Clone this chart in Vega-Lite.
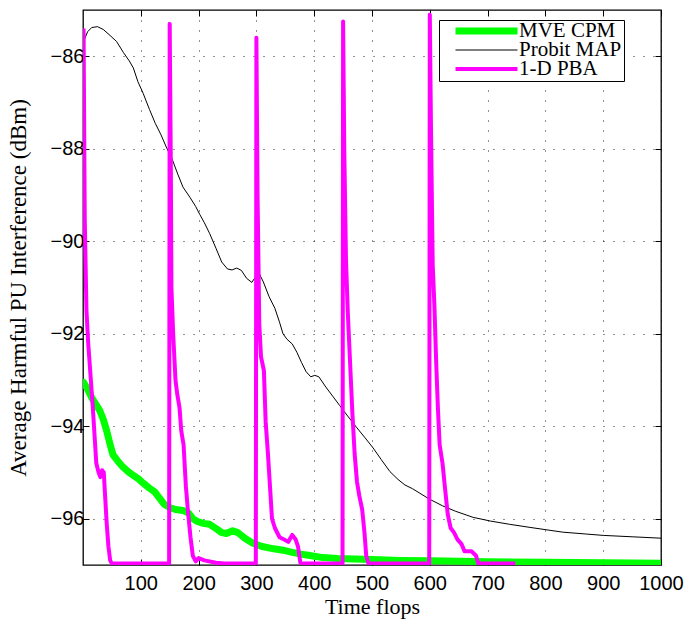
{
  "$schema": "https://vega.github.io/schema/vega-lite/v6.json",
  "width": 578,
  "height": 555,
  "autosize": "none",
  "padding": {"left": 83, "top": 10, "right": 24, "bottom": 56},
  "background": "white",
  "config": {
    "view": {"stroke": "#000", "strokeWidth": 1.3},
    "axis": {
      "labelFont": "Liberation Sans",
      "labelFontSize": 20,
      "labelColor": "#000",
      "titleFont": "Liberation Serif",
      "titleFontSize": 22,
      "titleFontWeight": "normal",
      "titleColor": "#000",
      "domain": false,
      "tickColor": "#000",
      "tickWidth": 1,
      "tickSize": -6,
      "gridColor": "#000",
      "gridDash": [1, 9],
      "gridOpacity": 0.85,
      "gridWidth": 1
    }
  },
  "data": {
    "values": [
      {"series":"MVE CPM","x":1,"y":-93.05},{"series":"MVE CPM","x":8,"y":-93.2},{"series":"MVE CPM","x":15,"y":-93.38},{"series":"MVE CPM","x":22,"y":-93.52},{"series":"MVE CPM","x":29,"y":-93.66},{"series":"MVE CPM","x":35,"y":-93.85},{"series":"MVE CPM","x":41,"y":-94.1},{"series":"MVE CPM","x":47,"y":-94.4},{"series":"MVE CPM","x":52,"y":-94.62},{"series":"MVE CPM","x":60,"y":-94.75},{"series":"MVE CPM","x":69,"y":-94.88},{"series":"MVE CPM","x":78,"y":-94.98},{"series":"MVE CPM","x":87,"y":-95.06},{"series":"MVE CPM","x":96,"y":-95.14},{"series":"MVE CPM","x":105,"y":-95.24},{"series":"MVE CPM","x":114,"y":-95.33},{"series":"MVE CPM","x":124,"y":-95.42},{"series":"MVE CPM","x":132,"y":-95.55},{"series":"MVE CPM","x":140,"y":-95.68},{"series":"MVE CPM","x":150,"y":-95.76},{"series":"MVE CPM","x":160,"y":-95.8},{"series":"MVE CPM","x":173,"y":-95.82},{"series":"MVE CPM","x":182,"y":-95.87},{"series":"MVE CPM","x":190,"y":-96.0},{"series":"MVE CPM","x":198,"y":-96.06},{"series":"MVE CPM","x":208,"y":-96.1},{"series":"MVE CPM","x":219,"y":-96.12},{"series":"MVE CPM","x":231,"y":-96.22},{"series":"MVE CPM","x":240,"y":-96.3},{"series":"MVE CPM","x":248,"y":-96.32},{"series":"MVE CPM","x":259,"y":-96.26},{"series":"MVE CPM","x":268,"y":-96.3},{"series":"MVE CPM","x":280,"y":-96.42},{"series":"MVE CPM","x":294,"y":-96.53},{"series":"MVE CPM","x":310,"y":-96.6},{"series":"MVE CPM","x":330,"y":-96.65},{"series":"MVE CPM","x":346,"y":-96.68},{"series":"MVE CPM","x":360,"y":-96.72},{"series":"MVE CPM","x":375,"y":-96.76},{"series":"MVE CPM","x":395,"y":-96.8},{"series":"MVE CPM","x":415,"y":-96.84},{"series":"MVE CPM","x":440,"y":-96.86},{"series":"MVE CPM","x":470,"y":-96.87},{"series":"MVE CPM","x":500,"y":-96.88},{"series":"MVE CPM","x":550,"y":-96.9},{"series":"MVE CPM","x":600,"y":-96.91},{"series":"MVE CPM","x":700,"y":-96.93},{"series":"MVE CPM","x":800,"y":-96.94},{"series":"MVE CPM","x":900,"y":-96.95},{"series":"MVE CPM","x":1000,"y":-96.96},
      {"series":"Probit MAP","x":1,"y":-85.85},{"series":"Probit MAP","x":3,"y":-85.62},{"series":"Probit MAP","x":8,"y":-85.47},{"series":"Probit MAP","x":15,"y":-85.38},{"series":"Probit MAP","x":25,"y":-85.36},{"series":"Probit MAP","x":35,"y":-85.42},{"series":"Probit MAP","x":45,"y":-85.53},{"series":"Probit MAP","x":58,"y":-85.68},{"series":"Probit MAP","x":70,"y":-85.92},{"series":"Probit MAP","x":80,"y":-86.1},{"series":"Probit MAP","x":87,"y":-86.25},{"series":"Probit MAP","x":95,"y":-86.55},{"series":"Probit MAP","x":104,"y":-86.8},{"series":"Probit MAP","x":115,"y":-87.15},{"series":"Probit MAP","x":125,"y":-87.45},{"series":"Probit MAP","x":135,"y":-87.7},{"series":"Probit MAP","x":144,"y":-87.96},{"series":"Probit MAP","x":155,"y":-88.25},{"series":"Probit MAP","x":164,"y":-88.55},{"series":"Probit MAP","x":173,"y":-88.83},{"series":"Probit MAP","x":185,"y":-89.05},{"series":"Probit MAP","x":195,"y":-89.25},{"series":"Probit MAP","x":202,"y":-89.42},{"series":"Probit MAP","x":210,"y":-89.6},{"series":"Probit MAP","x":219,"y":-89.83},{"series":"Probit MAP","x":230,"y":-90.15},{"series":"Probit MAP","x":240,"y":-90.45},{"series":"Probit MAP","x":250,"y":-90.6},{"series":"Probit MAP","x":258,"y":-90.62},{"series":"Probit MAP","x":266,"y":-90.58},{"series":"Probit MAP","x":274,"y":-90.63},{"series":"Probit MAP","x":283,"y":-90.8},{"series":"Probit MAP","x":292,"y":-90.89},{"series":"Probit MAP","x":298,"y":-90.78},{"series":"Probit MAP","x":305,"y":-90.7},{"series":"Probit MAP","x":312,"y":-90.88},{"series":"Probit MAP","x":322,"y":-91.2},{"series":"Probit MAP","x":332,"y":-91.45},{"series":"Probit MAP","x":340,"y":-91.75},{"series":"Probit MAP","x":346,"y":-92.0},{"series":"Probit MAP","x":353,"y":-92.12},{"series":"Probit MAP","x":362,"y":-92.22},{"series":"Probit MAP","x":370,"y":-92.4},{"series":"Probit MAP","x":378,"y":-92.62},{"series":"Probit MAP","x":386,"y":-92.82},{"series":"Probit MAP","x":394,"y":-92.93},{"series":"Probit MAP","x":401,"y":-92.9},{"series":"Probit MAP","x":408,"y":-92.93},{"series":"Probit MAP","x":420,"y":-93.15},{"series":"Probit MAP","x":432,"y":-93.35},{"series":"Probit MAP","x":444,"y":-93.55},{"series":"Probit MAP","x":458,"y":-93.78},{"series":"Probit MAP","x":473,"y":-94.02},{"series":"Probit MAP","x":488,"y":-94.25},{"series":"Probit MAP","x":502,"y":-94.47},{"series":"Probit MAP","x":516,"y":-94.72},{"series":"Probit MAP","x":531,"y":-94.98},{"series":"Probit MAP","x":545,"y":-95.15},{"series":"Probit MAP","x":557,"y":-95.27},{"series":"Probit MAP","x":570,"y":-95.35},{"series":"Probit MAP","x":583,"y":-95.45},{"series":"Probit MAP","x":600,"y":-95.58},{"series":"Probit MAP","x":622,"y":-95.72},{"series":"Probit MAP","x":645,"y":-95.84},{"series":"Probit MAP","x":675,"y":-95.97},{"series":"Probit MAP","x":705,"y":-96.05},{"series":"Probit MAP","x":738,"y":-96.12},{"series":"Probit MAP","x":775,"y":-96.19},{"series":"Probit MAP","x":808,"y":-96.25},{"series":"Probit MAP","x":830,"y":-96.29},{"series":"Probit MAP","x":870,"y":-96.33},{"series":"Probit MAP","x":900,"y":-96.36},{"series":"Probit MAP","x":950,"y":-96.39},{"series":"Probit MAP","x":1000,"y":-96.42},
      {"series":"1-D PBA","x":1,"y":-85.4},{"series":"1-D PBA","x":3,"y":-89.5},{"series":"1-D PBA","x":6,"y":-91.5},{"series":"1-D PBA","x":9,"y":-92.2},{"series":"1-D PBA","x":13,"y":-92.9},{"series":"1-D PBA","x":17,"y":-93.6},{"series":"1-D PBA","x":20,"y":-94.2},{"series":"1-D PBA","x":23,"y":-94.8},{"series":"1-D PBA","x":27,"y":-95.0},{"series":"1-D PBA","x":30,"y":-95.1},{"series":"1-D PBA","x":33,"y":-94.95},{"series":"1-D PBA","x":36,"y":-95.0},{"series":"1-D PBA","x":38,"y":-95.45},{"series":"1-D PBA","x":41,"y":-96.1},{"series":"1-D PBA","x":44,"y":-96.6},{"series":"1-D PBA","x":47,"y":-96.9},{"series":"1-D PBA","x":50,"y":-96.97},{"series":"1-D PBA","x":149,"y":-96.97},
      {"series":"1-D PBA","x":150,"y":-85.3},{"series":"1-D PBA","x":152,"y":-88.5},{"series":"1-D PBA","x":153,"y":-91.0},{"series":"1-D PBA","x":156,"y":-92.0},{"series":"1-D PBA","x":160,"y":-93.0},{"series":"1-D PBA","x":163,"y":-93.3},{"series":"1-D PBA","x":167,"y":-93.6},{"series":"1-D PBA","x":170,"y":-94.1},{"series":"1-D PBA","x":174,"y":-94.4},{"series":"1-D PBA","x":178,"y":-95.3},{"series":"1-D PBA","x":182,"y":-95.9},{"series":"1-D PBA","x":186,"y":-96.4},{"series":"1-D PBA","x":190,"y":-96.8},{"series":"1-D PBA","x":195,"y":-96.92},{"series":"1-D PBA","x":200,"y":-96.85},{"series":"1-D PBA","x":210,"y":-96.9},{"series":"1-D PBA","x":230,"y":-96.95},{"series":"1-D PBA","x":245,"y":-96.97},{"series":"1-D PBA","x":299,"y":-96.97},
      {"series":"1-D PBA","x":300,"y":-85.6},{"series":"1-D PBA","x":302,"y":-89.0},{"series":"1-D PBA","x":305,"y":-91.8},{"series":"1-D PBA","x":308,"y":-92.5},{"series":"1-D PBA","x":313,"y":-92.8},{"series":"1-D PBA","x":316,"y":-93.9},{"series":"1-D PBA","x":320,"y":-94.6},{"series":"1-D PBA","x":324,"y":-95.4},{"series":"1-D PBA","x":327,"y":-96.0},{"series":"1-D PBA","x":332,"y":-96.2},{"series":"1-D PBA","x":340,"y":-96.4},{"series":"1-D PBA","x":348,"y":-96.45},{"series":"1-D PBA","x":355,"y":-96.5},{"series":"1-D PBA","x":362,"y":-96.35},{"series":"1-D PBA","x":368,"y":-96.45},{"series":"1-D PBA","x":372,"y":-96.6},{"series":"1-D PBA","x":376,"y":-96.95},{"series":"1-D PBA","x":380,"y":-96.97},{"series":"1-D PBA","x":449,"y":-96.97},
      {"series":"1-D PBA","x":450,"y":-85.25},{"series":"1-D PBA","x":452,"y":-88.0},{"series":"1-D PBA","x":455,"y":-90.4},{"series":"1-D PBA","x":458,"y":-91.5},{"series":"1-D PBA","x":462,"y":-92.6},{"series":"1-D PBA","x":466,"y":-93.7},{"series":"1-D PBA","x":470,"y":-94.6},{"series":"1-D PBA","x":474,"y":-95.2},{"series":"1-D PBA","x":478,"y":-95.5},{"series":"1-D PBA","x":483,"y":-95.8},{"series":"1-D PBA","x":487,"y":-96.3},{"series":"1-D PBA","x":490,"y":-96.8},{"series":"1-D PBA","x":494,"y":-96.97},{"series":"1-D PBA","x":599,"y":-96.97},
      {"series":"1-D PBA","x":600,"y":-85.1},{"series":"1-D PBA","x":602,"y":-87.5},{"series":"1-D PBA","x":605,"y":-90.5},{"series":"1-D PBA","x":608,"y":-91.4},{"series":"1-D PBA","x":611,"y":-92.6},{"series":"1-D PBA","x":614,"y":-93.6},{"series":"1-D PBA","x":617,"y":-94.4},{"series":"1-D PBA","x":622,"y":-94.8},{"series":"1-D PBA","x":626,"y":-95.3},{"series":"1-D PBA","x":631,"y":-95.9},{"series":"1-D PBA","x":636,"y":-96.2},{"series":"1-D PBA","x":642,"y":-96.3},{"series":"1-D PBA","x":648,"y":-96.45},{"series":"1-D PBA","x":655,"y":-96.55},{"series":"1-D PBA","x":660,"y":-96.7},{"series":"1-D PBA","x":672,"y":-96.7},{"series":"1-D PBA","x":680,"y":-96.8},{"series":"1-D PBA","x":684,"y":-96.97},{"series":"1-D PBA","x":700,"y":-96.97},{"series":"1-D PBA","x":748,"y":-96.97}
    ]
  },
  "layer": [
    {
      "transform": [{"filter": "datum.series === 'MVE CPM'"}],
      "mark": {"type": "line", "clip": true, "strokeJoin": "round", "strokeCap": "round"},
      "encoding": {
        "x": {"field": "x", "type": "quantitative", "scale": {"domain": [0, 1000], "nice": false, "zero": false},
              "axis": {"orient": "bottom", "values": [100,200,300,400,500,600,700,800,900,1000], "format": "d", "title": "Time flops", "grid": true, "labelPadding": 14, "titlePadding": 3, "labelFlush": false}},
        "y": {"field": "y", "type": "quantitative", "scale": {"domain": [-97, -85], "nice": false, "zero": false},
              "axis": {"orient": "left", "values": [-96,-94,-92,-90,-88,-86], "format": "d", "title": "Average Harmful PU Interference (dBm)", "titleFontSize": 23, "grid": true, "labelPadding": 5, "titlePadding": 20, "labelFlush": false}},
        "color": {"field": "series", "type": "nominal",
                  "scale": {"domain": ["MVE CPM", "Probit MAP", "1-D PBA"], "range": ["#00ff00", "#000000", "#ff00ff"]},
                  "legend": {"orient": "none", "legendX": 356, "legendY": 10, "title": null, "labelFont": "Liberation Serif", "labelFontSize": 21, "labelColor": "#000", "symbolType": "stroke", "symbolSize": 3844, "clipHeight": 18, "padding": 2, "symbolOffset": 11, "labelOffset": -2, "rowPadding": -2, "fillColor": "#fff", "strokeColor": "#000", "labelLimit": 400}},
        "strokeWidth": {"field": "series", "type": "nominal",
                  "scale": {"type": "ordinal", "domain": ["MVE CPM", "Probit MAP", "1-D PBA"], "range": [7, 1, 4]},
                  "legend": {"orient": "none", "legendX": 356, "legendY": 10, "title": null, "labelFont": "Liberation Serif", "labelFontSize": 21, "labelColor": "#000", "symbolType": "stroke", "symbolSize": 3844, "clipHeight": 18, "padding": 2, "symbolOffset": 11, "labelOffset": -2, "rowPadding": -2, "fillColor": "#fff", "strokeColor": "#000", "labelLimit": 400}}
      }
    },
    {
      "transform": [{"filter": "datum.series === 'Probit MAP'"}],
      "mark": {"type": "line", "clip": true},
      "encoding": {
        "x": {"field": "x", "type": "quantitative", "axis": null},
        "y": {"field": "y", "type": "quantitative", "axis": null},
        "color": {"field": "series", "type": "nominal",
                  "scale": {"domain": ["MVE CPM", "Probit MAP", "1-D PBA"], "range": ["#00ff00", "#000000", "#ff00ff"]}},
        "strokeWidth": {"field": "series", "type": "nominal",
                  "scale": {"type": "ordinal", "domain": ["MVE CPM", "Probit MAP", "1-D PBA"], "range": [7, 1, 4]}}
      }
    },
    {
      "transform": [{"filter": "datum.series === '1-D PBA'"}],
      "mark": {"type": "line", "clip": true, "strokeJoin": "round"},
      "encoding": {
        "x": {"field": "x", "type": "quantitative", "axis": null},
        "y": {"field": "y", "type": "quantitative", "axis": null},
        "color": {"field": "series", "type": "nominal",
                  "scale": {"domain": ["MVE CPM", "Probit MAP", "1-D PBA"], "range": ["#00ff00", "#000000", "#ff00ff"]}},
        "strokeWidth": {"field": "series", "type": "nominal",
                  "scale": {"type": "ordinal", "domain": ["MVE CPM", "Probit MAP", "1-D PBA"], "range": [7, 1, 4]}}
      }
    },
    {
      "mark": {"type": "point", "opacity": 0},
      "encoding": {
        "x": {"field": "x", "type": "quantitative",
              "axis": {"orient": "top", "values": [100,200,300,400,500,600,700,800,900,1000], "labels": false, "title": null, "grid": false}},
        "y": {"field": "y", "type": "quantitative",
              "axis": {"orient": "right", "values": [-96,-94,-92,-90,-88,-86], "labels": false, "title": null, "grid": false}}
      }
    }
  ],
  "resolve": {"axis": {"x": "independent", "y": "independent"}}
}
